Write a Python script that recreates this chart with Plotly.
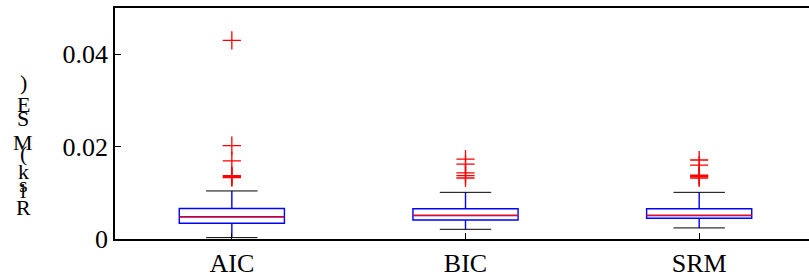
import plotly.graph_objects as go

categories = ["AIC", "BIC", "SRM"]
positions = [1, 2, 3]
q1 = [0.0034, 0.0041, 0.0045]
median = [0.0048, 0.0051, 0.0051]
q3 = [0.0066, 0.00655, 0.00655]
lower_whisker = [0.0003, 0.0021, 0.0024]
upper_whisker = [0.0104, 0.0101, 0.0101]
outliers = [
    [0.0430, 0.0202, 0.0169, 0.0137, 0.0135, 0.0133],
    [0.0173, 0.0162, 0.0143, 0.0137, 0.0132],
    [0.0171, 0.0160, 0.0138, 0.0135, 0.0132],
]
ytick_vals = [0, 0.02, 0.04]
ytick_text = ["0", "0.02", "0.04"]
ylabel = "Risk(MSE)"

BOX_W = 0.45
CAP_W = 0.22
FONT = "Liberation Serif, Times New Roman, serif"

fig = go.Figure()
for i, cat in enumerate(categories):
    x = positions[i]
    fig.add_trace(go.Box(
        x=[x], q1=[q1[i]], median=[median[i]], q3=[q3[i]],
        lowerfence=[lower_whisker[i]], upperfence=[upper_whisker[i]],
        width=BOX_W, whiskerwidth=0, boxpoints=False,
        line=dict(color="#0000ff", width=1.4), fillcolor="rgba(255,255,255,0)",
        showlegend=False, hoverinfo="skip"))
    fig.add_trace(go.Scatter(
        x=[x - BOX_W / 2, x + BOX_W / 2], y=[median[i], median[i]],
        mode="lines", line=dict(color="#ff0000", width=1.2),
        showlegend=False, hoverinfo="skip"))
    for v in (lower_whisker[i], upper_whisker[i]):
        fig.add_trace(go.Scatter(
            x=[x - CAP_W / 2, x + CAP_W / 2], y=[v, v],
            mode="lines", line=dict(color="#000000", width=1),
            showlegend=False, hoverinfo="skip"))
    fig.add_trace(go.Scatter(
        x=[x] * len(outliers[i]), y=outliers[i], mode="markers",
        marker=dict(symbol="cross-thin", size=13,
                    line=dict(color="#ff0000", width=1.3)),
        showlegend=False, hoverinfo="skip"))

char_py = [207, 191, 184, 171, 153, 142, 118, 104, 82]
plot_top, plot_bottom = 8, 239
for ch, py in zip(ylabel, char_py):
    fig.add_annotation(
        text=ch, xref="paper", yref="paper", x=0, xshift=-92,
        y=(plot_bottom - py) / (plot_bottom - plot_top),
        xanchor="center", yanchor="middle", showarrow=False,
        font=dict(family=FONT, size=22, color="#000000"))

fig.update_layout(
    width=809, height=278,
    margin=dict(l=115, r=0, t=8, b=39),
    paper_bgcolor="white", plot_bgcolor="white",
    font=dict(family=FONT, size=26, color="#000000"),
    xaxis=dict(range=[0.5, 3.47], tickvals=positions, ticktext=categories,
               showgrid=False, zeroline=False, showline=True, mirror=True,
               linecolor="#000000", linewidth=1.5, ticks="inside", ticklen=6,
               tickcolor="#000000", tickfont=dict(family=FONT, size=26)),
    yaxis=dict(range=[0, 0.05], tickvals=ytick_vals, ticktext=ytick_text,
               showgrid=False, zeroline=False, showline=True, mirror=False,
               linecolor="#000000", linewidth=1.5, ticks="inside", ticklen=6,
               tickcolor="#000000", tickfont=dict(family=FONT, size=26)),
)

fig.write_html("out.html", config={"displayModeBar": False},
               post_script="document.body.style.margin='0px';")
